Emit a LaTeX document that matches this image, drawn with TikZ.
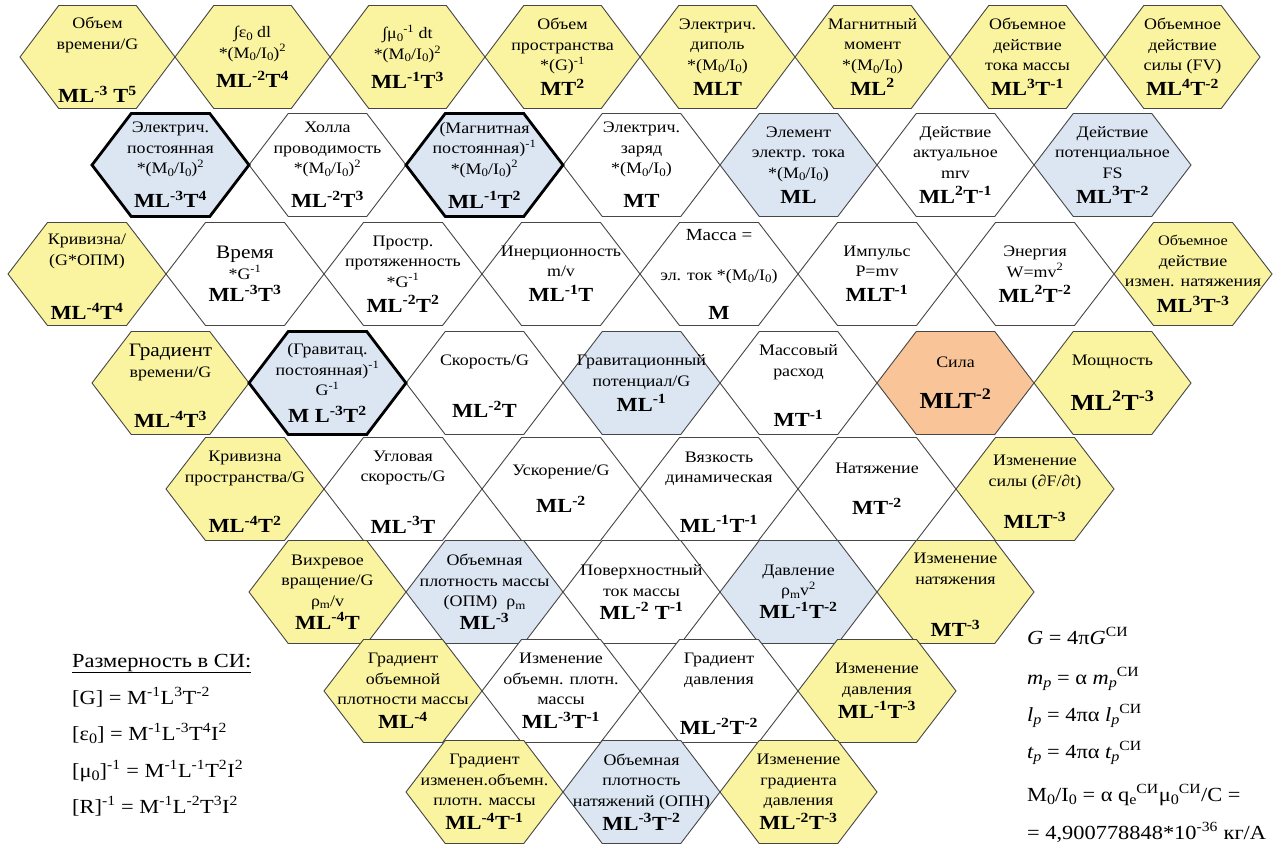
\documentclass[tikz,border=0pt]{standalone}
\usepackage{fontspec}
\setmainfont{Liberation Serif}[FakeStretch=1.12]
\usepackage{graphicx}
\definecolor{hy}{RGB}{250,244,160}
\definecolor{hb}{RGB}{220,230,243}
\definecolor{ho}{RGB}{249,196,152}
\definecolor{hl}{RGB}{70,70,70}
\def\hw{79}\def\qw{39.5}\def\hh{51.5}
\newcommand\hexpath[2]{(#1-\hw,#2) -- (#1-\qw,#2-\hh) -- (#1+\qw,#2-\hh) -- (#1+\hw,#2) -- (#1+\qw,#2+\hh) -- (#1-\qw,#2+\hh) -- cycle}
\newcommand\hexcell[5]{\filldraw[fill=#4,hexline] \hexpath{#2}{#3}; \node[lbl] (#1) at (#2,#3) {#5};}
\newcommand\hexcellg[5]{\filldraw[fill=#4,hexline] \hexpath{#2}{#3}; \node[lbl,yshift=-3pt] (#1) at (#2,#3) {#5};}
\newcommand\lf{\fontsize{16}{20.5}\selectfont}
\newcommand\bg{\fontsize{19}{23}\selectfont}
\newcommand\sm{\fontsize{14.5}{19.5}\selectfont}
\newcommand\nf{\fontsize{20}{23}\selectfont}
\newcommand\su[1]{\textsuperscript{#1}}
\newcommand\lo[1]{\raisebox{-0.35ex}{\scalebox{0.72}{#1}}}
\newcommand\fm[1]{{\fontsize{20}{22}\selectfont\bfseries #1}}
\newcommand\fmL[1]{{\fontsize{23}{25}\selectfont\bfseries #1}}
\newcommand\MI{(M\lo{0}/I\lo{0})}
\begin{document}
\begin{tikzpicture}[x=1pt,y=-1pt,
  hexline/.style={draw=hl,line width=0.9pt,line join=miter},
  boldline/.style={draw=black,line width=2.8pt,line join=miter},
  lbl/.style={align=center,font=\lf,inner sep=0pt,text=black},
  note/.style={anchor=base west,inner sep=0pt,font=\nf}]
\useasboundingbox (0,0) rectangle (1279,845);
% Row 1
\def\hw{77.5}\def\qw{38.75}
\hexcellg{a1}{97.5}{57}{hy}{Объем\\времени/G\\[33pt]\fm{ML\su{-3} T\su{5}}}
\hexcell{a2}{252.5}{57}{hy}{∫ε\lo{0} dl\\{}*\MI\su{2}\\[9pt]\fm{ML\su{-2}T\su{4}}}
\hexcell{a3}{407.5}{57}{hy}{∫μ\lo{0}\su{-1} dt\\{}*\MI\su{2}\\[9pt]\fm{ML\su{-1}T\su{3}}}
\hexcell{a4}{562.5}{57}{hy}{Объем\\пространства\\{}*(G)\su{-1}\\[4.5pt]\fm{MT\su{2}}}
\hexcell{a5}{717.5}{57}{hy}{Электрич.\\диполь\\{}*\MI\\[4.5pt]\fm{MLT}}
\hexcell{a6}{872.5}{57}{hy}{Магнитный\\момент\\{}*\MI\\[4.5pt]\fm{ML\su{2}}}
\hexcell{a7}{1027.5}{57}{hy}{Объемное\\действие\\тока массы\\[4.5pt]\fm{ML\su{3}T\su{-1}}}
\hexcell{a8}{1182.5}{57}{hy}{Объемное\\действие\\силы (FV)\\[4.5pt]\fm{ML\su{4}T\su{-2}}}
% Row 2
\def\hw{78.5}\def\qw{39.25}
\hexcell{b1}{170.5}{165}{hb}{Электрич.\\постоянная\\{}*\MI\su{2}\\[13.5pt]\fm{ML\su{-3}T\su{4}}}
\hexcell{b2}{327.5}{165}{white}{Холла\\проводимость\\{}*\MI\su{2}\\[13.5pt]\fm{ML\su{-2}T\su{3}}}
\hexcell{b3}{484.5}{165}{hb}{(Магнитная\\постоянная)\su{-1}\\{}*\MI\su{2}\\[13.5pt]\fm{ML\su{-1}T\su{2}}}
\hexcell{b4}{641.5}{165}{white}{Электрич.\\заряд\\{}*\MI\\[13.5pt]\fm{MT}}
\hexcell{b5}{798.5}{165}{hb}{Элемент\\электр. тока\\{}*\MI\\[4.5pt]\fm{ML}}
\hexcell{b6}{955.5}{165}{white}{Действие\\актуальное\\mrv\\[4.5pt]\fm{ML\su{2}T\su{-1}}}
\hexcell{b7}{1112.5}{165}{hb}{Действие\\потенциальное\\FS\\[4.5pt]\fm{ML\su{3}T\su{-2}}}
% Row 3
\def\hw{79}\def\qw{39.5}
\hexcellg{c1}{87}{274}{hy}{Кривизна/\\(G*ОПМ)\\[34pt]\fm{ML\su{-4}T\su{4}}}
\hexcell{c2}{245}{274}{white}{\bg Время\\{}*G\su{-1}\\[2pt]\fm{ML\su{-3}T\su{3}}}
\hexcell{c3}{403}{274}{white}{Простр.\\протяженность\\{}*G\su{-1}\\[4.5pt]\fm{ML\su{-2}T\su{2}}}
\hexcell{c4}{561}{274}{white}{Инерционность\\m/v\\[4.5pt]\fm{ML\su{-1}T}}
\hexcell{c5}{719}{274}{white}{\fontsize{17}{20.5}\selectfont Масса =\\[19.5pt]\lf эл. ток *\MI\\[18.5pt]\fm{M}}
\hexcell{c6}{877}{274}{white}{Импульс\\P=mv\\[4.5pt]\fm{MLT\su{-1}}}
\hexcell{c7}{1035}{274}{white}{Энергия\\W=mv\su{2}\\[4.5pt]\fm{ML\su{2}T\su{-2}}}
\hexcell{c8}{1193}{274}{hy}{\sm Объемное\\действие\\измен. натяжения\\[5.5pt]\fm{ML\su{3}T\su{-3}}}
% Row 4
\def\hw{78.5}\def\qw{39.25}
\hexcellg{d1}{170.5}{383}{hy}{\bg Градиент\\времени/G\\[30pt]\fm{ML\su{-4}T\su{3}}}
\hexcell{d2}{327.5}{383}{hb}{(Гравитац.\\постоянная)\su{-1}\\G\su{-1}\\[6.5pt]\fm{M L\su{-3}T\su{2}}}
\hexcellg{d3}{484.5}{383}{white}{Скорость/G\\[32pt]\fm{ML\su{-2}T}}
\hexcell{d4}{641.5}{383}{hb}{Гравитационный\\потенциал/G\\[4.5pt]\fm{ML\su{-1}}}
\hexcellg{d5}{798.5}{383}{white}{Массовый\\расход\\[30pt]\fm{MT\su{-1}}}
\hexcell{d6}{955.5}{383}{ho}{Сила\\[20.5pt]\fmL{MLT\su{-2}}}
\hexcell{d7}{1112.5}{383}{hy}{Мощность\\[21.5pt]\fmL{ML\su{2}T\su{-3}}}
% Row 5
\def\hw{79}\def\qw{39.5}
\hexcellg{e1}{245}{489}{hy}{Кривизна\\пространства/G\\[30pt]\fm{ML\su{-4}T\su{2}}}
\hexcellg{e2}{403}{489}{white}{Угловая\\скорость/G\\[31pt]\fm{ML\su{-3}T}}
\hexcell{e3}{561}{489}{white}{Ускорение/G\\[16.5pt]\fm{ML\su{-2}}}
\hexcellg{e4}{719}{489}{white}{Вязкость\\динамическая\\[29pt]\fm{ML\su{-1}T\su{-1}}}
\hexcell{e5}{877}{489}{white}{Натяжение\\[20.5pt]\fm{MT\su{-2}}}
\hexcellg{e6}{1035}{489}{hy}{Изменение\\силы (∂F/∂t)\\[22pt]\fm{MLT\su{-3}}}
% Row 6
\def\hw{78.5}\def\qw{39.25}
\hexcell{f1}{327.5}{592}{hy}{Вихревое\\вращение/G\\ρ\lo{m}/v\\[2.5pt]\fm{ML\su{-4}T}}
\hexcell{f2}{484.5}{592}{hb}{Объемная\\плотность массы\\(ОПМ)~~ρ\lo{m}\\[2.5pt]\fm{ML\su{-3}}}
\hexcell{f3}{641.5}{592}{white}{Поверхностный\\ток массы\\[2.5pt]\fm{ML\su{-2} T\su{-1}}}
\hexcell{f4}{798.5}{592}{hb}{Давление\\ρ\lo{m}v\su{2}\\[2.5pt]\fm{ML\su{-1}T\su{-2}}}
\hexcellg{f5}{955.5}{592}{hy}{Изменение\\натяжения\\[32pt]\fm{MT\su{-3}}}
% Row 7
\def\hw{79}\def\qw{39.5}
\hexcell{g1}{403}{691}{hy}{Градиент\\объемной\\плотности массы\\[3.5pt]\fm{ML\su{-4}}}
\hexcell{g2}{561}{691}{white}{Изменение\\объемн. плотн.\\массы\\[3.5pt]\fm{ML\su{-3}T\su{-1}}}
\hexcellg{g3}{719}{691}{white}{Градиент\\давления\\[30pt]\fm{ML\su{-2}T\su{-2}}}
\hexcell{g4}{877}{691}{hy}{Изменение\\давления\\[3.5pt]\fm{ML\su{-1}T\su{-3}}}
% Row 8
\def\hw{78.5}\def\qw{39.25}
\hexcell{h1}{484.5}{792}{hy}{Градиент\\изменен.объемн.\\плотн. массы\\[3.5pt]\fm{ML\su{-4}T\su{-1}}}
\hexcell{h2}{641.5}{792}{hb}{Объемная\\плотность\\натяжений (ОПН)\\[3.5pt]\fm{ML\su{-3}T\su{-2}}}
\hexcell{h3}{798.5}{792}{hy}{Изменение\\градиента\\давления\\[3.5pt]\fm{ML\su{-2}T\su{-3}}}
% bold outlines
\def\hw{78.5}\def\qw{39.25}
\draw[boldline] \hexpath{170.5}{165};
\draw[boldline] \hexpath{484.5}{165};
\draw[boldline] \hexpath{327.5}{383};
% left notes
\node[note] (n1) at (72,667) {\underline{Размерность в СИ:}};
\node[note] (n2) at (72,704) {[G] = M\su{-1}L\su{3}T\su{-2}};
\node[note] (n3) at (72,740) {[ε\lo{0}] = M\su{-1}L\su{-3}T\su{4}I\su{2}};
\node[note] (n4) at (72,777) {[μ\lo{0}]\su{-1} = M\su{-1}L\su{-1}T\su{2}I\su{2}};
\node[note] (n5) at (72,813) {[R]\su{-1} = M\su{-1}L\su{-2}T\su{3}I\su{2}};
% right notes
\node[note] (m1) at (1027,644) {\textit{G} = 4π\textit{G}\su{СИ}};
\node[note] (m2) at (1027,684) {\textit{m\lo{p}} = α \textit{m\lo{p}}\su{СИ}};
\node[note] (m3) at (1027,721) {\textit{l\lo{p}} = 4πα \textit{l\lo{p}}\su{СИ}};
\node[note] (m4) at (1027,758) {\textit{t\lo{p}} = 4πα \textit{t\lo{p}}\su{СИ}};
\node[note] (m5) at (1027,801) {M\lo{0}/I\lo{0} = α q\lo{e}\su{СИ}μ\lo{0}\su{СИ}/C =};
\node[note] (m6) at (1027,839) {= 4,900778848*10\su{-36} кг/А};
\end{tikzpicture}
\end{document}
